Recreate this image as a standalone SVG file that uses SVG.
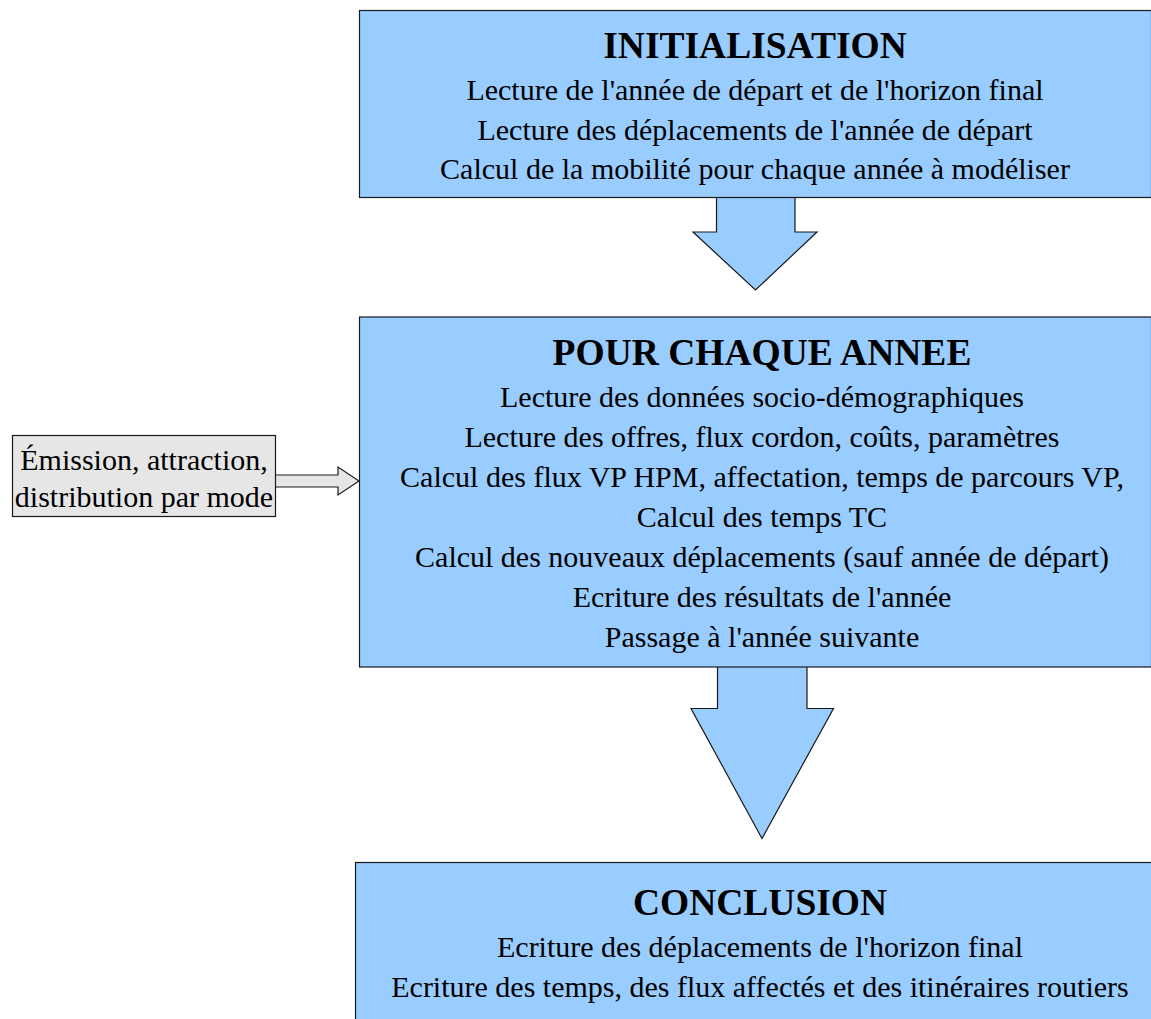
<svg xmlns="http://www.w3.org/2000/svg" width="1151" height="1019" viewBox="0 0 1151 1019">
<style>
.blue{fill:#99ccff;stroke:#1a1a1a;stroke-width:1.2}
.gray{fill:#e6e6e6;stroke:#1a1a1a;stroke-width:1.2}
text{font-family:"Liberation Serif","Times New Roman",serif;fill:#000;text-anchor:middle}
.t{font-size:37.5px;font-weight:bold}
.b{font-size:30px}
</style>
<rect width="1151" height="1019" fill="#fff"/>
<g id="connectors">
<polygon class="blue" points="716.5,197 795,197 795,232 817,232 755.5,290 693,232 716.5,232"/>
<polygon class="blue" points="717.5,666.5 807,666.5 807,708.5 833.5,708.5 762,838.5 691,708.5 717.5,708.5"/>
<polygon class="gray" points="275,475 338,475 338,467 359,481 338,495 338,487 275,487"/>
</g>
<g id="init">
<rect class="blue" x="359.5" y="10.5" width="792" height="187"/>
<text class="t" x="755" y="58">INITIALISATION</text>
<text class="b" x="755" y="100">Lecture de l'année de départ et de l'horizon final</text>
<text class="b" x="755" y="139.5">Lecture des déplacements de l'année de départ</text>
<text class="b" x="755" y="179">Calcul de la mobilité pour chaque année à modéliser</text>
</g>
<g id="annee">
<rect class="blue" x="359.5" y="317" width="792" height="350"/>
<text class="t" x="762" y="365">POUR CHAQUE ANNEE</text>
<text class="b" x="762" y="407">Lecture des données socio-démographiques</text>
<text class="b" x="762" y="447">Lecture des offres, flux cordon, coûts, paramètres</text>
<text class="b" x="762" y="487">Calcul des flux VP HPM, affectation, temps de parcours VP,</text>
<text class="b" x="762" y="527">Calcul des temps TC</text>
<text class="b" x="762" y="567">Calcul des nouveaux déplacements (sauf année de départ)</text>
<text class="b" x="762" y="607">Ecriture des résultats de l'année</text>
<text class="b" x="762" y="647">Passage à l'année suivante</text>
</g>
<g id="conclusion">
<rect class="blue" x="355.5" y="862.5" width="800" height="170"/>
<text class="t" x="760" y="915">CONCLUSION</text>
<text class="b" x="760" y="957">Ecriture des déplacements de l'horizon final</text>
<text class="b" x="760" y="997">Ecriture des temps, des flux affectés et des itinéraires routiers</text>
</g>
<g id="entree">
<rect class="gray" x="12.5" y="435.5" width="263" height="81"/>
<text class="b" x="144" y="470">Émission, attraction,</text>
<text class="b" x="144" y="507">distribution par mode</text>
</g>
</svg>
